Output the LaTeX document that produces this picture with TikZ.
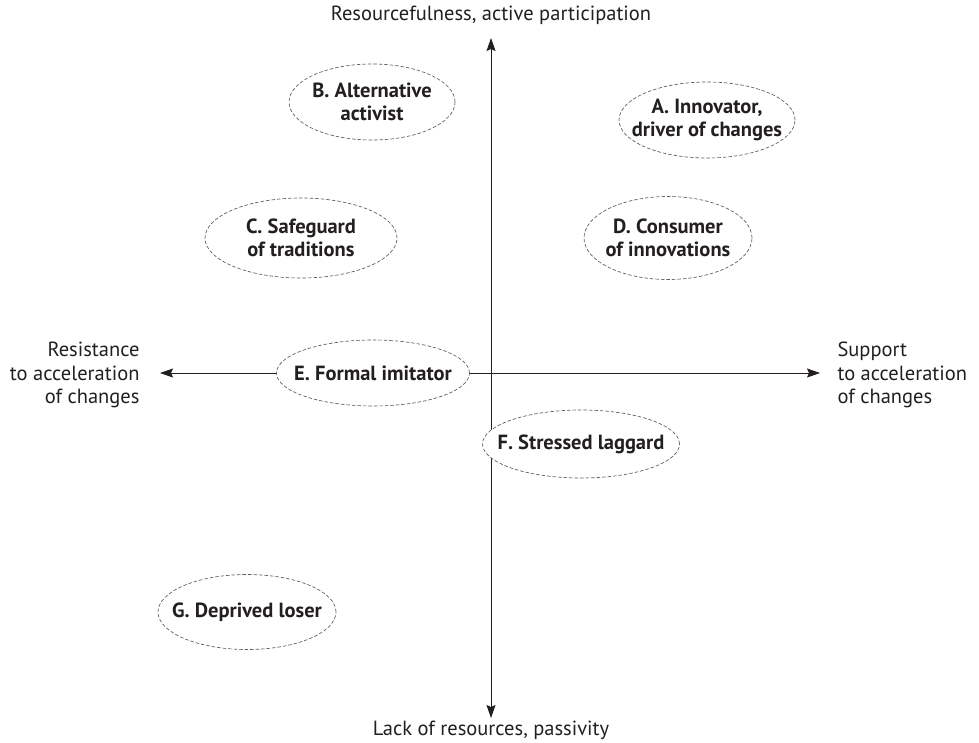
\documentclass[tikz,border=0pt]{standalone}
\usepackage{fontspec}
\setmainfont{PT Sans}
\usetikzlibrary{shapes.geometric,arrows.meta}
\definecolor{ink}{HTML}{231F20}
\definecolor{rim}{HTML}{5A5A5A}
\begin{document}
\begin{tikzpicture}[x=1pt,y=-1pt,
  every node/.style={text=ink,font=\fontsize{20.5}{23.5}\selectfont},
  group/.style 2 args={ellipse,draw=rim,dashed,dash pattern=on 3.5pt off 2pt,line width=0.65pt,fill=white,
    inner sep=0pt,minimum width=#1,minimum height=#2},
  tag/.style={label={[align=center,font=\fontsize{20.5}{23}\selectfont\bfseries,text=ink]center:#1}},
  axis/.style={draw=ink,line width=0.9pt,-{Stealth[length=13pt,width=9pt,inset=2pt]}}]
  \useasboundingbox (0,0) rectangle (979,742);
  % axes
  \coordinate (o) at (491,373);
  \coordinate (top) at (491,38);
  \coordinate (bot) at (491,718);
  \coordinate (lft) at (160,373);
  \coordinate (rgt) at (820,373);
  \draw[axis] (o) -- (top);
  \draw[axis] (o) -- (bot);
  \draw[axis] (o) -- (lft);
  \draw[axis] (o) -- (rgt);
  % axis captions
  \node (ttop) at (491,15) {Resourcefulness, active participation};
  \node (tbot) at (491,730) {Lack of resources, passivity};
  \node[anchor=east,align=right] (tlft) at (143,375) {Resistance\\to acceleration\\of changes};
  \node[anchor=west,align=left] (trgt) at (834,375) {Support\\to acceleration\\of changes};
  % groups
  \node[group={166pt}{76pt},tag={B. Alternative\\activist}] (B) at (372,102) {};
  \node[group={176pt}{76pt},tag={A. Innovator,\\driver of changes}] (A) at (707,120) {};
  \node[group={192pt}{80pt},tag={C. Safeguard\\of traditions}] (C) at (301,238) {};
  \node[group={168pt}{83pt},tag={D. Consumer\\of innovations}] (D) at (668,238) {};
  \node[group={193pt}{66pt},tag={E. Formal imitator}] (E) at (373,373) {};
  \node[group={197pt}{68pt},tag={F. Stressed laggard}] (F) at (581,444) {};
  \node[group={178pt}{75pt},tag={G. Deprived loser}] (G) at (247,612) {};
\end{tikzpicture}
\end{document}
